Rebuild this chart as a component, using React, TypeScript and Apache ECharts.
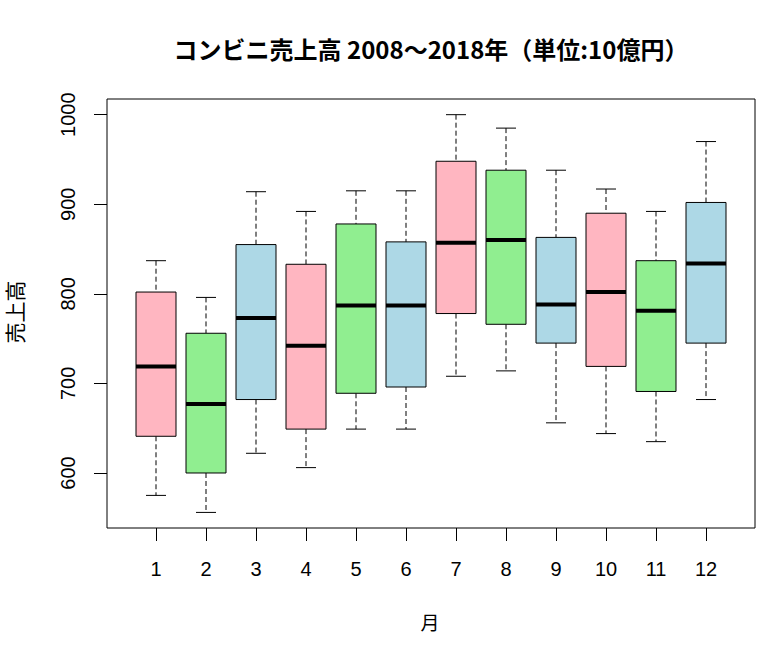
import React, { useEffect, useRef } from 'react';
import * as echarts from 'echarts';

// Months (categories)
const months = [1, 2, 3, 4, 5, 6, 7, 8, 9, 10, 11, 12];
// Box statistics (10億円)
const lowerWhisker = [575, 556, 622, 606, 649, 649, 708, 714, 656, 644, 635, 682];
const lowerQuartile = [641, 600, 682, 649, 689, 696, 778, 766, 745, 719, 691, 745];
const medians = [719, 677, 773, 742, 787, 787, 857, 860, 788, 802, 781, 834];
const upperQuartile = [802, 756, 855, 833, 878, 858, 948, 938, 863, 890, 837, 902];
const upperWhisker = [837, 796, 914, 892, 915, 915, 1000, 985, 938, 917, 892, 970];
const boxColors = ['#FFB6C1', '#90EE90', '#ADD8E6', '#FFB6C1', '#90EE90', '#ADD8E6', '#FFB6C1', '#90EE90', '#ADD8E6', '#FFB6C1', '#90EE90', '#ADD8E6'];
// Axis ticks
const yTicks = [600, 700, 800, 900, 1000];
const yRange = [538.6, 1017.5];
const xRange = [0.02, 12.98];

const titleText = 'コンビニ売上高 2008～2018年（単位:10億円）';
const yName = '売上高';
const xName = '月';

export default function App() {
  const ref = useRef<HTMLDivElement>(null);

  useEffect(() => {
    if (!ref.current) return;
    const chart = echarts.init(ref.current, null, { renderer: 'svg' });
    const data = months.map((m, i) => [m, lowerWhisker[i], lowerQuartile[i], medians[i], upperQuartile[i], upperWhisker[i]]);
    const dash = [5, 3];
    chart.setOption({
      animation: false,
      backgroundColor: '#fff',
      grid: {
        left: 107,
        top: 99,
        right: 10,
        bottom: 118,
        show: true,
        borderColor: '#000',
        borderWidth: 1,
        backgroundColor: 'transparent',
      },
      xAxis: {
        type: 'value',
        min: xRange[0],
        max: xRange[1],
        axisLine: { show: false },
        splitLine: { show: false },
        axisTick: { show: true, length: 13, customValues: months, lineStyle: { color: '#000', width: 1 } },
        axisLabel: {
          customValues: months,
          margin: 31,
          fontSize: 20,
          color: '#000',
          fontFamily: 'Liberation Sans, Arial, sans-serif',
          formatter: (v: number) => String(v),
        },
      },
      yAxis: {
        type: 'value',
        min: yRange[0],
        max: yRange[1],
        axisLine: { show: false },
        splitLine: { show: false },
        axisTick: { show: true, length: 13, customValues: yTicks, lineStyle: { color: '#000', width: 1 } },
        axisLabel: {
          customValues: yTicks,
          rotate: 90,
          margin: 29,
          fontSize: 20,
          color: '#000',
          fontFamily: 'Liberation Sans, Arial, sans-serif',
          formatter: (v: number) => String(v),
        },
      },
      graphic: [
        {
          type: 'text',
          x: 431,
          y: 48,
          style: {
            text: titleText,
            fontSize: 24,
            fontWeight: 'bold',
            fontFamily: '"Noto Sans CJK JP", sans-serif',
            fill: '#000',
            textAlign: 'center',
            textVerticalAlign: 'middle',
          },
        },
        {
          type: 'text',
          x: 14,
          y: 312,
          rotation: Math.PI / 2,
          style: {
            text: yName,
            fontSize: 21,
            fontFamily: '"Noto Sans CJK JP", sans-serif',
            fill: '#000',
            textAlign: 'center',
            textVerticalAlign: 'middle',
          },
        },
        {
          type: 'text',
          x: 430,
          y: 621,
          style: {
            text: xName,
            fontSize: 19,
            fontFamily: '"Noto Sans CJK JP", sans-serif',
            fill: '#000',
            textAlign: 'center',
            textVerticalAlign: 'middle',
          },
        },
      ],
      series: [
        {
          type: 'custom',
          data,
          encode: { x: 0, y: [1, 2, 3, 4, 5] },
          renderItem: (params: any, api: any) => {
            const x = api.value(0);
            const pLo = api.coord([x, api.value(1)]);
            const pQ1 = api.coord([x, api.value(2)]);
            const pMed = api.coord([x, api.value(3)]);
            const pQ3 = api.coord([x, api.value(4)]);
            const pHi = api.coord([x, api.value(5)]);
            const halfW = api.size([0.8, 0])[0] / 2;
            const capHalf = halfW / 2;
            const cx = pMed[0];
            const color = boxColors[params.dataIndex];
            return {
              type: 'group',
              children: [
                { type: 'line', shape: { x1: cx, y1: pHi[1], x2: cx, y2: pQ3[1] }, style: { stroke: '#000', lineWidth: 1, lineDash: dash } },
                { type: 'line', shape: { x1: cx, y1: pQ1[1], x2: cx, y2: pLo[1] }, style: { stroke: '#000', lineWidth: 1, lineDash: dash } },
                { type: 'line', shape: { x1: cx - capHalf, y1: pHi[1], x2: cx + capHalf, y2: pHi[1] }, style: { stroke: '#000', lineWidth: 1 } },
                { type: 'line', shape: { x1: cx - capHalf, y1: pLo[1], x2: cx + capHalf, y2: pLo[1] }, style: { stroke: '#000', lineWidth: 1 } },
                {
                  type: 'rect',
                  shape: { x: cx - halfW, y: pQ3[1], width: 2 * halfW, height: pQ1[1] - pQ3[1] },
                  style: { fill: color, stroke: '#000', lineWidth: 1 },
                },
                { type: 'line', shape: { x1: cx - halfW, y1: pMed[1], x2: cx + halfW, y2: pMed[1] }, style: { stroke: '#000', lineWidth: 4 } },
              ],
            };
          },
        },
      ],
    });
    return () => chart.dispose();
  }, []);

  return <div ref={ref} style={{ position: 'absolute', left: 0, top: 0, width: 765, height: 646 }} />;
}
